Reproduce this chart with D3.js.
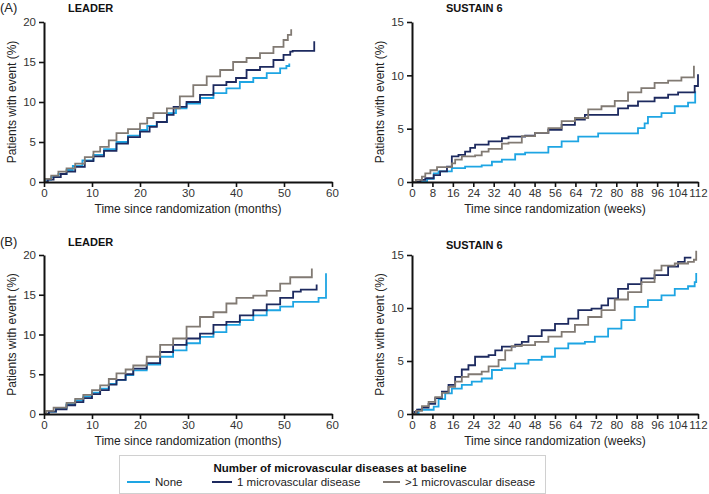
<!DOCTYPE html>
<html><head><meta charset="utf-8">
<script src="https://cdn.jsdelivr.net/npm/d3@7"></script>
<style>
body{margin:0;background:#fff;}
svg{display:block;font-family:"Liberation Sans",Arial,sans-serif;}
</style></head>
<body><svg id="c" width="709" height="494"></svg>
<script>
// ---------- data ----------
const seriesNames = ["None", "1 microvascular disease", ">1 microvascular disease"];
const seriesColors = ["#1ea5e3", "#1d2a5f", "#817a73"];
const leaderTicksX = [0, 10, 20, 30, 40, 50, 60];
const leaderTicksY = [0, 5, 10, 15, 20];
const sustainTicksX = [0, 8, 16, 24, 32, 40, 48, 56, 64, 72, 80, 88, 96, 104, 112];
const sustainTicksY = [0, 5, 10, 15];

const leaderA_none = [[0,0],[0.5,0.3],[1.5,0.6],[3,1.0],[4.7,1.5],[6,2.0],[8,2.7],[10.3,3.4],[12.5,4.1],[15.1,5],[17.5,5.8],[20,6.5],[21.5,7.0],[23.5,7.5],[25.6,8.6],[27.5,9.2],[29.7,9.8],[32.5,10.5],[35.3,11.1],[38,11.7],[40.8,12.5],[43.6,13],[46.4,13.6],[49.2,14.2],[50.5,14.5],[51.1,14.8]];
const leaderA_one = [[0,0],[0.8,0.3],[2,0.6],[3.5,1.0],[4.7,1.3],[6.5,1.9],[8.5,2.6],[10.3,3.2],[12.5,3.9],[15.1,4.8],[17.5,5.6],[20,6.3],[22,6.9],[23.5,7.5],[25.6,8.4],[27,9.4],[29.7,10],[32.5,10.9],[35.3,12.1],[38,12.5],[40,13],[42.2,14],[45,14.4],[47.8,15.25],[49.9,15.9],[51.3,16.3],[51.8,16.4],[56.3,17.6]];
const leaderA_gt1 = [[0,0],[0.3,0.4],[1.5,0.8],[3,1.3],[4.7,1.7],[6.5,2.3],[8.5,3.1],[10.3,3.8],[11.7,4.4],[13.5,5.2],[15.1,6.1],[17.5,6.6],[20,7.3],[21.5,8],[22.8,8.6],[25.6,9.2],[28.3,10.7],[31.1,12.1],[33.9,13.2],[36.7,14],[39.4,15],[42.2,15.5],[45,16.1],[47.8,16.9],[49.9,17.75],[50.8,18.4],[51.5,19.1]];

const sustainA_none = [[0,0],[5.9,0.3],[8.5,0.8],[10.4,1],[15.6,1.3],[20.8,1.45],[27.3,1.55],[31.3,1.9],[35.2,2.1],[40.4,2.6],[44.3,2.75],[53.4,3.3],[58.6,3.8],[65.1,4.25],[72.9,4.55],[88.5,5.05],[91.1,5.5],[92.4,6.1],[97.7,6.45],[102.9,7.1],[108.1,7.45],[110.9,8.5]];
const sustainA_one = [[0,0],[3.3,0.2],[5.2,0.35],[8.5,0.65],[11,1],[13.7,1.45],[15.6,2.4],[18.2,2.55],[20.8,2.85],[22.8,3.2],[24.7,3.5],[30,3.8],[35.2,4.1],[37.8,4.25],[44.3,4.35],[48.2,4.6],[53.4,4.9],[58.6,5.35],[63.8,5.85],[67.7,6.3],[80.7,6.9],[84.6,7.15],[88.5,7.55],[95,7.9],[100.3,8.2],[104.2,8.4],[110.7,9],[112,10.1]];
const sustainA_gt1 = [[0,0],[1.5,0.2],[3.9,0.5],[5.2,0.8],[7.2,1.1],[9.8,1.4],[15.6,1.75],[16.9,2.1],[19.5,2.4],[24.7,2.5],[27.3,2.85],[30,3.1],[35.2,3.6],[37.8,3.7],[43,4.3],[48.2,4.6],[53.4,5.05],[58.6,5.7],[63.8,6],[69,6.8],[74.2,7.1],[79.4,7.6],[84.6,8.4],[89.8,8.8],[95,9.3],[100.3,9.5],[105.5,9.8],[110.4,10.9]];

const leaderB_none = [[0,0],[1,0.3],[2.5,0.7],[4.7,1.25],[6.5,1.7],[8.2,2.2],[10,2.7],[11.7,3.2],[13.5,3.8],[15.1,4.3],[17,4.9],[18.6,5.5],[21.4,6.2],[24.2,7.2],[26.9,8],[29.7,8.9],[32.5,9.7],[35.3,10.3],[38,11.2],[40.8,11.8],[43.6,12.4],[46.4,13.05],[49.2,13.5],[51.9,14.1],[57.2,14.6],[58.75,17.7]];
const leaderB_one = [[0,0],[1,0.3],[2.5,0.6],[4.7,1.1],[6.5,1.5],[8.2,2],[10,2.5],[11.7,3],[13.5,3.7],[15.1,4.3],[17,5],[18.6,5.7],[21.4,6.4],[24.2,7.8],[26.9,8.7],[29.7,9.5],[32.5,10.1],[35.3,11.2],[38,11.6],[40.8,12.4],[43.6,13.05],[46.4,13.8],[49.2,14.6],[51.9,15.4],[53.5,15.65],[56.8,16.3]];
const leaderB_gt1 = [[0,0],[0.5,0.4],[2,0.8],[4.7,1.4],[6.5,1.9],[8.2,2.4],[10,3],[11.7,3.6],[13.5,4.4],[15.1,5.1],[17,5.6],[18.6,6.1],[21.4,7.2],[24.2,8.7],[26.9,9.5],[29.7,11],[32.5,12.2],[35.3,12.8],[38,13.9],[40.1,14.6],[43.6,14.9],[46.4,15.5],[49.2,16.4],[51.3,17.2],[55.8,18.3]];

const sustainB_none = [[0,0],[2.6,0.4],[8.5,0.7],[10.4,1.4],[13,1.95],[15.6,2.4],[19.5,2.75],[23.4,3.05],[27.3,3.35],[31.3,4.15],[35.2,4.3],[40.4,4.75],[45.6,5.1],[50.8,5.4],[56,6.2],[61.2,6.65],[67.7,6.8],[71.6,7.3],[76.8,8.05],[82,8.85],[87.2,10.1],[92.4,10.75],[97.7,11.2],[102.9,11.8],[108.1,12.05],[110.7,12.45],[111.3,13.3]];
const sustainB_one = [[0,0],[1,0.2],[2,0.4],[3.9,0.6],[6.5,0.95],[9.1,1.5],[11.7,2.1],[14.3,2.75],[16.9,3.5],[19.5,4.2],[22.1,4.6],[24.7,5.4],[30,5.55],[32.6,6],[35.2,6.35],[40.4,6.55],[43,6.8],[45.6,7.35],[50.8,7.9],[56,8.5],[61.2,9],[65.1,9.8],[70.3,9.95],[74.2,10.25],[76.8,10.9],[80.7,11.8],[84.6,12.25],[89.8,12.8],[95,13.1],[100.3,13.9],[104.2,14.35],[106.8,14.75],[109.4,14.75]];
const sustainB_gt1 = [[0,0],[1.5,0.3],[3.9,0.75],[6.5,1.15],[9.1,1.6],[11.7,2],[14.3,2.55],[16.9,3.05],[19.5,3.5],[22.1,3.75],[27.3,4],[30,4.5],[33.9,5.1],[36.5,6],[39,6.4],[43,6.5],[48.2,6.8],[53.4,7.3],[58.6,7.75],[63.8,8.4],[69,9.15],[74.2,9.8],[79.4,10.8],[84.6,11.5],[89.8,12.45],[95,13.55],[97.7,14],[102.9,14.2],[108.1,14.35],[110.4,14.55],[111.3,15.4]];

// ---------- drawing ----------
const svg = d3.select("#c");
const line = d3.line().curve(d3.curveStepAfter);

const panels = [
  {title:"LEADER", x0:44, x1:332, y0:182, y1:22, xmax:60, ymax:20, xt:leaderTicksX, yt:leaderTicksY, titleX:68,
   xlabel:"Time since randomization (months)", data:[leaderA_none, leaderA_one, leaderA_gt1], tag:"(A)", titleY:8},
  {title:"SUSTAIN 6", x0:412, x1:698, y0:182, y1:22, xmax:112, ymax:15, xt:sustainTicksX, yt:sustainTicksY, titleX:446,
   xlabel:"Time since randomization (weeks)", data:[sustainA_none, sustainA_one, sustainA_gt1], titleY:8},
  {title:"LEADER", x0:44, x1:332, y0:414, y1:255, xmax:60, ymax:20, xt:leaderTicksX, yt:leaderTicksY, titleX:68,
   xlabel:"Time since randomization (months)", data:[leaderB_none, leaderB_one, leaderB_gt1], tag:"(B)", titleY:242},
  {title:"SUSTAIN 6", x0:412, x1:698, y0:414, y1:255, xmax:112, ymax:15, xt:sustainTicksX, yt:sustainTicksY, titleX:446,
   xlabel:"Time since randomization (weeks)", data:[sustainB_none, sustainB_one, sustainB_gt1], titleY:245}
];

panels.forEach(p => {
  const x = d3.scaleLinear().domain([0, p.xmax]).range([p.x0, p.x1]);
  const y = d3.scaleLinear().domain([0, p.ymax]).range([p.y0, p.y1]);
  const g = svg.append("g");

  p.data.forEach((d, i) => {
    g.append("path")
      .attr("d", line(d.map(v => [x(v[0]), y(v[1])])))
      .attr("fill", "none")
      .attr("stroke", seriesColors[i])
      .attr("stroke-width", 1.8)
      .attr("stroke-linejoin", "miter");
  });

  const ax = g.append("g").attr("transform", `translate(0,${p.y0})`)
    .call(d3.axisBottom(x).tickValues(p.xt).tickSize(5).tickSizeOuter(0).tickPadding(2));
  const ay = g.append("g").attr("transform", `translate(${p.x0},0)`)
    .call(d3.axisLeft(y).tickValues(p.yt).tickSize(5).tickSizeOuter(0).tickPadding(3));
  [ax, ay].forEach(a => {
    a.select(".domain").attr("stroke", "#111").attr("stroke-width", 2);
    a.selectAll(".tick line").attr("stroke", "#111").attr("stroke-width", 1.6);
    a.selectAll(".tick text").attr("fill", "#333").style("font-size", "11.5px")
      .style("font-family", "Liberation Sans, Arial, sans-serif");
  });

  g.append("text").attr("x", p.titleX).attr("y", p.titleY).attr("dy", "0.35em")
    .style("font-size", "11px").style("font-weight", "bold").attr("fill", "#111").text(p.title);
  if (p.tag) {
    g.append("text").attr("x", 0).attr("y", p.titleY - 1).attr("dy", "0.35em")
      .style("font-size", "13px").attr("fill", "#222").text(p.tag);
  }
  g.append("text").attr("x", (p.x0 + p.x1) / 2).attr("y", p.y0 + 27).attr("dy", "0.35em")
    .attr("text-anchor", "middle").style("font-size", "12px").attr("fill", "#222").text(p.xlabel);
  g.append("text")
    .attr("transform", `translate(${p.x0 - 32},${(p.y0 + p.y1) / 2}) rotate(-90)`)
    .attr("text-anchor", "middle").attr("dy", "0.35em")
    .style("font-size", "12px").attr("fill", "#222").text("Patients with event (%)");
});

// legend
const lg = svg.append("g");
lg.append("rect").attr("x", 119.5).attr("y", 455.5).attr("width", 426).attr("height", 38)
  .attr("fill", "#fff").attr("stroke", "#d0d0d0").attr("stroke-width", 1);
lg.append("text").attr("x", 340).attr("y", 468).attr("dy", "0.35em").attr("text-anchor", "middle")
  .style("font-size", "11.5px").style("font-weight", "bold").attr("fill", "#111")
  .text("Number of microvascular diseases at baseline");
const itemX = [127, 212, 383];
const lineLen = [23, 20, 17];
seriesNames.forEach((n, i) => {
  lg.append("line").attr("x1", itemX[i]).attr("x2", itemX[i] + lineLen[i]).attr("y1", 482).attr("y2", 482)
    .attr("stroke", seriesColors[i]).attr("stroke-width", 2);
  lg.append("text").attr("x", itemX[i] + lineLen[i] + 5).attr("y", 482).attr("dy", "0.35em")
    .style("font-size", "11.5px").attr("fill", "#222").text(n);
});
</script></body></html>
